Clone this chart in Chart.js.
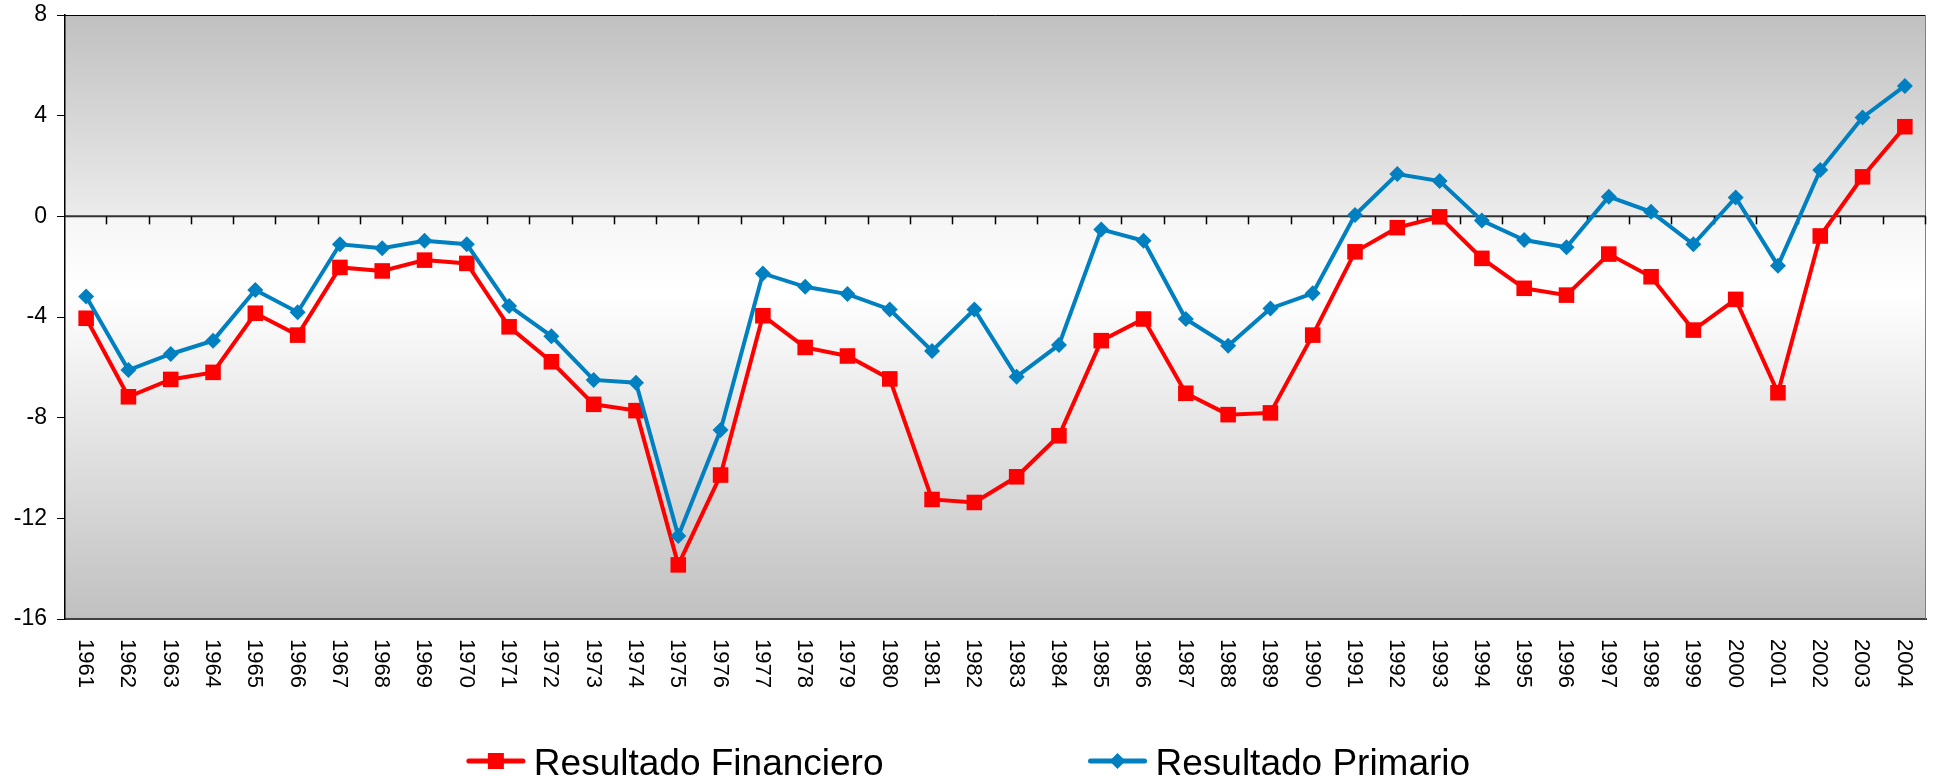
<!DOCTYPE html>
<html>
<head>
<meta charset="utf-8">
<script src="https://cdn.jsdelivr.net/npm/chart.js@4/dist/chart.umd.min.js"></script>
<style>
  html, body { margin: 0; padding: 0; background: #fff; }
  #wrap { width: 1937px; height: 781px; }
</style>
</head>
<body>
<div id="wrap"><canvas id="grafico" width="1937" height="781"></canvas></div>
<script>
const anios = ['1961','1962','1963','1964','1965','1966','1967','1968','1969','1970',
  '1971','1972','1973','1974','1975','1976','1977','1978','1979','1980',
  '1981','1982','1983','1984','1985','1986','1987','1988','1989','1990',
  '1991','1992','1993','1994','1995','1996','1997','1998','1999','2000',
  '2001','2002','2003','2004'];

const resultadoFinanciero = [-4.05, -7.17, -6.48, -6.20, -3.85, -4.72, -2.03, -2.17, -1.74, -1.87,
  -4.39, -5.78, -7.47, -7.72, -13.85, -10.28, -3.95, -5.21, -5.55, -6.46,
  -11.25, -11.37, -10.35, -8.72, -4.94, -4.08, -7.03, -7.88, -7.81, -4.72,
  -1.41, -0.45, -0.02, -1.67, -2.86, -3.13, -1.50, -2.40, -4.52, -3.30,
  -7.01, -0.78, 1.57, 3.56];

const resultadoPrimario = [-3.19, -6.11, -5.47, -4.94, -2.93, -3.81, -1.11, -1.27, -0.97, -1.11,
  -3.56, -4.76, -6.50, -6.61, -12.70, -8.49, -2.27, -2.80, -3.09, -3.70,
  -5.35, -3.70, -6.37, -5.11, -0.52, -0.97, -4.08, -5.14, -3.66, -3.06,
  0.05, 1.68, 1.40, -0.17, -0.94, -1.23, 0.78, 0.18, -1.11, 0.75,
  -1.96, 1.84, 3.93, 5.18];

const yMin = -16, yMax = 8, yPaso = 4;
const FUENTE = 'Arial, "Liberation Sans", sans-serif';

// fondo, linea del cero, etiquetas y leyenda
const decorado = {
  id: 'decorado',
  beforeDraw(chart) {
    const { ctx, chartArea: a, scales } = chart;
    const f0 = (scales.y.getPixelForValue(0) - a.top) / (a.bottom - a.top);
    const g = ctx.createLinearGradient(0, a.top, 0, a.bottom);
    g.addColorStop(0, '#c0c0c0');
    g.addColorStop(f0, '#ececec');
    g.addColorStop(Math.min(f0 + 0.004, 1), '#f6f6f6');
    g.addColorStop(0.46, '#ffffff');
    g.addColorStop(1, '#c0c0c0');
    ctx.save();
    ctx.fillStyle = g;
    ctx.fillRect(a.left, a.top, a.right - a.left, a.bottom - a.top);
    ctx.restore();
  },
  beforeDatasetsDraw(chart) {
    const { ctx, chartArea: a, scales } = chart;
    const x = scales.x, y0 = scales.y.getPixelForValue(0);
    const medio = (x.getPixelForValue(1) - x.getPixelForValue(0)) / 2;
    ctx.save();
    // borde superior y derecho
    ctx.strokeStyle = '#000';
    ctx.lineWidth = 1;
    ctx.beginPath();
    ctx.moveTo(a.left, a.top + 0.5);
    ctx.lineTo(a.right, a.top + 0.5);
    ctx.stroke();
    ctx.strokeStyle = '#808080';
    ctx.beginPath();
    ctx.moveTo(a.right - 0.5, a.top);
    ctx.lineTo(a.right - 0.5, a.bottom);
    ctx.stroke();
    // eje en cero
    ctx.strokeStyle = '#333';
    ctx.lineWidth = 2;
    ctx.beginPath();
    ctx.moveTo(a.left, y0);
    ctx.lineTo(a.right, y0);
    ctx.stroke();
    ctx.lineWidth = 1.5;
    ctx.strokeStyle = '#000';
    for (let i = 1; i <= anios.length; i++) {
      const px = Math.round(x.getPixelForValue(i - 1) + medio) - 0.5;
      ctx.beginPath();
      ctx.moveTo(px, y0);
      ctx.lineTo(px, y0 + 8);
      ctx.stroke();
    }
    ctx.restore();
  },
  afterDraw(chart) {
    const { ctx, chartArea: a, scales } = chart;
    ctx.save();
    // etiquetas de años, giradas
    ctx.fillStyle = '#000';
    ctx.font = '22px ' + FUENTE;
    ctx.textAlign = 'left';
    ctx.textBaseline = 'middle';
    anios.forEach((t, i) => {
      const px = scales.x.getPixelForValue(i);
      ctx.save();
      ctx.translate(px - 1, a.bottom + 20);
      ctx.rotate(Math.PI / 2);
      ctx.fillText(t, 0, 0);
      ctx.restore();
    });

    // leyenda
    ctx.font = '37px ' + FUENTE;
    ctx.textBaseline = 'alphabetic';
    const ds = chart.data.datasets;
    const items = [ds[0], ds[1]];
    const anchoLinea = 58, hueco = 9, entre = 205;
    const anchos = items.map(d => ctx.measureText(d.label).width);
    const total = anchos.reduce((s, w) => s + anchoLinea + hueco + w, 0) + entre;
    let x0 = (chart.width - total) / 2;
    const yl = 761, yt = 775;
    items.forEach((d, i) => {
      ctx.strokeStyle = d.borderColor;
      ctx.lineWidth = 5;
      ctx.lineCap = 'round';
      ctx.beginPath();
      ctx.moveTo(x0 + 2, yl);
      ctx.lineTo(x0 + anchoLinea - 2, yl);
      ctx.stroke();
      const cx = x0 + anchoLinea / 2;
      ctx.fillStyle = d.pointBackgroundColor;
      if (d.pointStyle === 'rect') {
        ctx.fillRect(cx - 8, yl - 8, 16, 16);
      } else {
        ctx.beginPath();
        ctx.moveTo(cx - 8, yl);
        ctx.lineTo(cx, yl - 8);
        ctx.lineTo(cx + 8, yl);
        ctx.lineTo(cx, yl + 8);
        ctx.closePath();
        ctx.fill();
      }
      ctx.fillStyle = '#000';
      ctx.fillText(d.label, x0 + anchoLinea + hueco, yt);
      x0 += anchoLinea + hueco + anchos[i] + entre;
    });
    ctx.restore();
  }
};

new Chart(document.getElementById('grafico'), {
  type: 'line',
  data: {
    labels: anios,
    datasets: [
      {
        label: 'Resultado Financiero',
        data: resultadoFinanciero,
        borderColor: '#ff0000',
        backgroundColor: '#ff0000',
        pointBackgroundColor: '#ff0000',
        borderWidth: 4,
        pointStyle: 'rect',
        pointRadius: 11,
        pointBorderWidth: 0,
        tension: 0,
        order: 1
      },
      {
        label: 'Resultado Primario',
        data: resultadoPrimario,
        borderColor: '#0080c0',
        backgroundColor: '#0080c0',
        pointBackgroundColor: '#0080c0',
        borderWidth: 4,
        pointStyle: 'rectRot',
        pointRadius: 8,
        pointBorderWidth: 0,
        tension: 0,
        order: 0
      }
    ]
  },
  options: {
    responsive: false,
    animation: false,
    layout: { padding: { top: 15, right: 7, bottom: 0, left: 0 } },
    scales: {
      x: {
        offset: true,
        ticks: { display: false },
        grid: { display: false },
        border: { display: true, color: '#404040', width: 2 },
        afterFit: s => { s.height = 162; s.paddingLeft = 0; s.paddingRight = 0; }
      },
      y: {
        min: yMin,
        max: yMax,
        ticks: {
          stepSize: yPaso,
          color: '#000',
          padding: 10,
          font: { family: FUENTE, size: 23 }
        },
        grid: { drawOnChartArea: false, drawTicks: true, tickLength: 8, color: '#000' },
        border: { display: true, color: '#000', width: 1.5 },
        afterFit: s => { s.width = 65; s.paddingTop = 0; s.paddingBottom = 0; }
      }
    },
    plugins: {
      legend: { display: false },
      tooltip: { enabled: false }
    }
  },
  plugins: [decorado]
});
</script>
</body>
</html>
